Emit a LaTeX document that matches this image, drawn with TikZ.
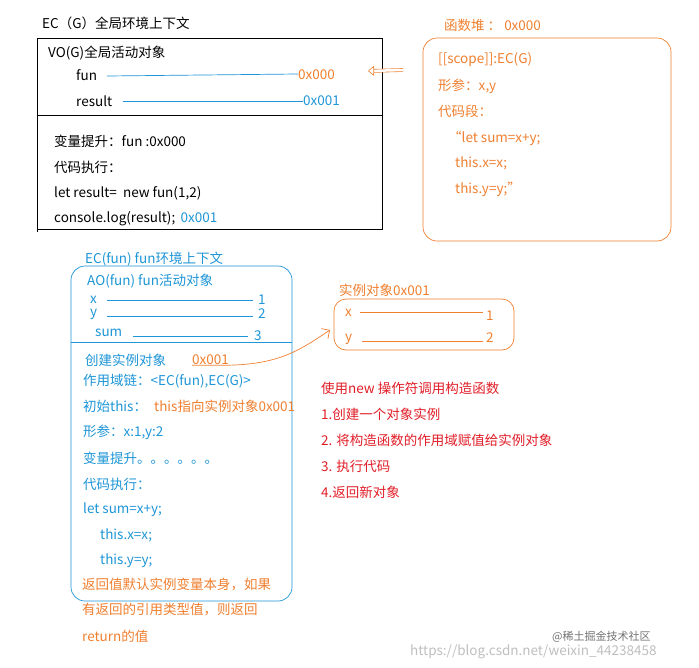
\documentclass[tikz,border=0pt]{standalone}
\usepackage{fontspec}
\setmainfont{Noto Sans CJK SC}
\usetikzlibrary{arrows.meta}
\definecolor{cblue}{RGB}{30,150,215}
\definecolor{corange}{RGB}{240,128,48}
\definecolor{cred}{RGB}{225,30,40}
\tikzset{
 t/.style={anchor=west,inner sep=0pt,font=\fontsize{13.5}{15}\selectfont},
 bt/.style={t,text=cblue}, ot/.style={t,text=corange}, rt/.style={t,text=cred},
 bl/.style={cblue,line width=0.7pt}, ol/.style={corange,line width=0.7pt}
}
\begin{document}
\begin{tikzpicture}[x=1pt,y=-1pt]
\useasboundingbox[fill=white] (0,0) rectangle (699,667);
% global EC
\node[t] (ecg) at (42,23) {EC（G）全局环境上下文};
\draw[line width=0.7pt] (37,38) -- (382,38) -- (382,230);
\draw[line width=0.7pt] (37,38) -- (37,232);
\draw[line width=0.7pt] (37,115) -- (382,115);
\draw[line width=0.7pt] (37,229) -- (382,229);
\node[t] (vog) at (48,53) {VO(G)全局活动对象};
\node[t] (fun) at (76,75) {fun};
\node[ot] (a0) at (298,75) {0x000};
\draw[bl] (107,76) -- ([yshift=1pt]a0.west);
\node[t] (res) at (76,101) {result};
\node[bt] (a1) at (303,101) {0x001};
\draw[bl] (123,101) -- (a1.west);
\node[t] (l1) at (54,141) {变量提升：fun :0x000};
\node[t] (l2) at (54,167) {代码执行：};
\node[t] (l3) at (54,193) {let result=\ \ new fun(1,2)};
\node[t] (l4) at (54,219) {console.log(result);};
\node[bt] (l4b) at (l4.east) [xshift=5pt,yshift=1pt] {0x001};
% heap
\node[ot] (heap) at (444,25) {函数堆 ： 0x000};
\node[draw=corange,line width=0.7pt,rounded corners=14pt,minimum width=248pt,minimum height=203pt] (hbox) at (547,139.5) {};
\node[ot] (h1) at (438,60) {[[scope]]:EC(G)};
\node[ot] (h2) at (438,86) {形参：x,y};
\node[ot] (h3) at (438,111) {代码段：};
\node[ot] (h4) at (448,138) {“let sum=x+y;};
\node[ot] (h5) at (455,163) {this.x=x;};
\node[ot] (h6) at (455,189) {this.y=y;”};
\draw[corange,double distance=2.5pt,line width=0.6pt,-{Triangle[open,length=6pt,width=10pt,line width=0.6pt]}] (403,70) -- (368,71);
% fun EC
\node[bt] (ecf) at (85,259) {EC(fun) fun环境上下文};
\node[draw=cblue,line width=0.7pt,rounded corners=14pt,minimum width=221pt,minimum height=335pt] (fbox) at (181.5,433.5) {};
\draw[bl] (fbox.west |- 0,342) -- (fbox.east |- 0,342);
\node[bt] (ao) at (87,281) {AO(fun) fun活动对象};
\node[bt] (fx) at (90,300) {x};
\node[bt] (v1) at (258,300) {1};
\draw[bl] (107,300) -- (253,300);
\node[bt] (fy) at (90,314) {y};
\node[bt] (v2) at (258,314) {2};
\draw[bl] (107,316) -- (253,316);
\node[bt] (fs) at (95,333) {sum};
\node[bt] (v3) at (254,336) {3};
\draw[bl] (133,336) -- (248,336);
\node[bt] (c1) at (85,360) {创建实例对象};
\node[ot] (c1a) at (192,360) {0x001};
\node[bt] (c2) at (83,381) {作用域链：<EC(fun),EC(G)>};
\node[bt] (c3) at (83,406) {初始this：};
\node[ot] (c3a) at (154,406) {this指向实例对象0x001};
\node[bt] (c4) at (83,432) {形参：x:1,y:2};
\node[bt] (c5) at (83,458) {变量提升。。。。。。};
\node[bt] (c6) at (83,484) {代码执行：};
\node[bt] (c7) at (83,510) {let sum=x+y;};
\node[bt] (c8) at (100,535) {this.x=x;};
\node[bt] (c9) at (100,561) {this.y=y;};
\node[ot] (c10) at (82,584) {返回值默认实例变量本身，如果};
\node[ot] (c11) at (82,610) {有返回的引用类型值，则返回};
\node[ot] (c12) at (82,636) {return的值};
% instance
\node[ot] (inst) at (339,290) {实例对象0x001};
\node[draw=corange,line width=0.7pt,rounded corners=12pt,minimum width=180pt,minimum height=51pt] (ibox) at (424,324.5) {};
\node[ot] (ix) at (345,313) {x};
\node[ot] (i1) at (486,316) {1};
\draw[ol] (360,312) -- (483,312);
\node[ot] (iy) at (345,339) {y};
\node[ot] (i2) at (486,338) {2};
\draw[ol] (362,341) -- (483,341);
\draw[ol,-{Straight Barb[length=6pt]}] (c1a.south west) -- (c1a.south east) .. controls (280,364) and (300,350) .. (330,330);
% red
\node[rt] (r0) at (321,388) {使用new 操作符调用构造函数};
\node[rt] (r1) at (321,414) {1.创建一个对象实例};
\node[rt] (r2) at (321,440) {2. 将构造函数的作用域赋值给实例对象};
\node[rt] (r3) at (321,466) {3. 执行代码};
\node[rt] (r4) at (321,492) {4.返回新对象};
% watermark
\node[t,text=black!25] (url) at (410,652) {https://blog.csdn.net/weixin\_44238458};
\node[t,text=black!55,font=\fontsize{11}{13}\selectfont] (wm) at (552,637) {@稀土掘金技术社区};
\end{tikzpicture}
\end{document}
